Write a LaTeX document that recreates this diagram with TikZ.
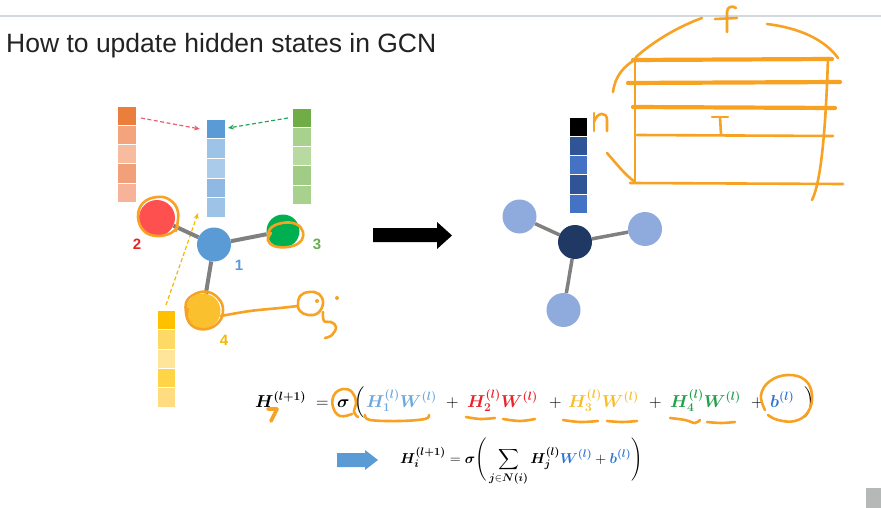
\documentclass[tikz,border=0pt]{standalone}
\usepackage{fontspec}
\usepackage{amsmath,bm}
\usetikzlibrary{arrows.meta}
\newfontfamily\sansfnt{Liberation Sans}
\definecolor{titlegray}{HTML}{222222}
\definecolor{topline}{HTML}{D3D9DE}
\definecolor{handor}{HTML}{F7A223}
\definecolor{edgegray}{HTML}{808080}
% vectors
\definecolor{vo0}{HTML}{EB7E3A}\definecolor{vo1}{HTML}{F4A47C}\definecolor{vo2}{HTML}{F7BBA0}\definecolor{vo3}{HTML}{F2A07A}\definecolor{vo4}{HTML}{F6B399}
\definecolor{vb0}{HTML}{5B9BD5}\definecolor{vb1}{HTML}{9DC3E6}\definecolor{vb2}{HTML}{AACBEA}\definecolor{vb3}{HTML}{8FB8E2}\definecolor{vb4}{HTML}{9DC3E6}
\definecolor{vg0}{HTML}{70AD47}\definecolor{vg1}{HTML}{A9D18E}\definecolor{vg2}{HTML}{B8D9A0}\definecolor{vg3}{HTML}{A0CC85}\definecolor{vg4}{HTML}{A9D18E}
\definecolor{vy0}{HTML}{FFC000}\definecolor{vy1}{HTML}{FFD966}\definecolor{vy2}{HTML}{FFE599}\definecolor{vy3}{HTML}{FFD447}\definecolor{vy4}{HTML}{FFDC80}
\definecolor{vd0}{HTML}{000000}\definecolor{vd1}{HTML}{2F5597}\definecolor{vd2}{HTML}{4472C4}\definecolor{vd3}{HTML}{2F5597}\definecolor{vd4}{HTML}{4472C4}
% nodes
\definecolor{nblue}{HTML}{5B9BD5}
\definecolor{nred}{HTML}{FF5050}
\definecolor{ngreen}{HTML}{00B050}
\definecolor{nyellow}{HTML}{FBC02D}
\definecolor{nnavy}{HTML}{203864}
\definecolor{nlight}{HTML}{8FAADC}
% labels / formula
\definecolor{lred}{HTML}{E02828}
\definecolor{lgreen}{HTML}{6AAB4F}
\definecolor{lyellow}{HTML}{F5B800}
\definecolor{fblue}{HTML}{6FA8DC}
\definecolor{fred}{HTML}{E8232A}
\definecolor{fyellow}{HTML}{F7BE2B}
\definecolor{fgreen}{HTML}{22A04B}
\definecolor{fb}{HTML}{2E75D6}
\definecolor{darrred}{HTML}{E8606A}
\definecolor{darrgreen}{HTML}{21A55A}
\definecolor{cornergray}{HTML}{B4B8B6}

\begin{document}
\begin{tikzpicture}[x=1pt,y=-1pt,
  hand/.style={draw=handor, line width=2.6pt, line cap=round, line join=round},
  handthick/.style={hand, line width=4.2pt},
  gnode/.style={circle, inner sep=0pt, minimum size=#1},
  gedge/.style={draw=edgegray, line width=4pt},
  nlabel/.style={inner sep=0pt, font=\sansfnt\bfseries\fontsize{15}{15}\selectfont},
  fm/.style={anchor=base west, inner sep=0pt, font=\fontsize{18.5}{22}\selectfont},
  dasharr/.style={line width=1.2pt, dash pattern=on 4pt off 2.5pt, -{Stealth[length=6pt,width=5pt]}}
]
\useasboundingbox (0,0) rectangle (881,508);

% top line and title
\draw[topline, line width=1.5pt] (0,16) -- (881,16);
\node[anchor=base west, inner sep=0pt, font=\sansfnt\fontsize{26.5}{30}\selectfont, text=titlegray] (title) at (6,53) {How to update hidden states in GCN};

% feature vectors
\foreach \i in {0,...,4} {
  \fill[vo\i, draw=white, line width=0.5pt] (117,{106+19.2*\i}) rectangle (136,{106+19.2*(\i+1)});
  \fill[vb\i, draw=white, line width=0.5pt] (206,{119+19.6*\i}) rectangle (225,{119+19.6*(\i+1)});
  \fill[vg\i, draw=white, line width=0.5pt] (292,{108+19.2*\i}) rectangle (311,{108+19.2*(\i+1)});
  \fill[vy\i, draw=white, line width=0.5pt] (157,{310+19.4*\i}) rectangle (175,{310+19.4*(\i+1)});
  \fill[vd\i, draw=white, line width=0.5pt] (569,{117+19.2*\i}) rectangle (587,{117+19.2*(\i+1)});
}

% dashed message arrows
\coordinate (redfrom) at (141,118);
\coordinate (redto) at (200,129);
\coordinate (greenfrom) at (288,118);
\coordinate (greento) at (228,128);
\coordinate (yelfrom) at (166,305);
\coordinate (yelto) at (198,213);
\draw[dasharr, darrred] (redfrom) -- (redto);
\draw[dasharr, darrgreen] (greenfrom) -- (greento);
\draw[dasharr, lyellow] (yelfrom) -- (yelto);

% left graph
\node[gnode=34pt, fill=nblue] (n1) at (214,244.5) {};
\node[gnode=36pt, fill=nred] (n2) at (157,218) {};
\node[gnode=33pt, fill=ngreen] (n3) at (283,231) {};
\node[gnode=35pt, fill=nyellow] (n4) at (203,311) {};
\draw[gedge] (n1) -- (n2);
\draw[gedge] (n1) -- (n3);
\draw[gedge] (n1) -- (n4);
\node[nlabel, text=nblue] (l1) at (239,265) {1};
\node[nlabel, text=lred] (l2) at (137,244) {2};
\node[nlabel, text=lgreen] (l3) at (317,244) {3};
\node[nlabel, text=lyellow] (l4) at (224,340) {4};

% big black arrow
\fill[black] (373,228) -- (437,228) -- (437,222) -- (452,235.5) -- (437,249) -- (437,242) -- (373,242) -- cycle;

% right graph
\node[gnode=34pt, fill=nnavy] (m1) at (575,242) {};
\node[gnode=34pt, fill=nlight] (m2) at (519.5,216.5) {};
\node[gnode=34pt, fill=nlight] (m3) at (645,229) {};
\node[gnode=34pt, fill=nlight] (m4) at (563.5,310) {};
\draw[gedge, line width=3.5pt] (m1) -- (m2);
\draw[gedge, line width=3.5pt] (m1) -- (m3);
\draw[gedge, line width=3.5pt] (m1) -- (m4);

% handwritten marks on the left graph
\draw[hand] plot[smooth, tension=0.7] coordinates {(176,231) (178,212) (170,200) (157,197) (143,203) (138,217) (144,231) (157,236) (171,233) (178,226)};
\draw[hand] plot[smooth, tension=0.7] coordinates {(268,241) (270,229) (282,223) (296,224) (303,232) (300,242) (288,247) (274,246) (268,240) (271,233)};
\draw[hand] plot[smooth, tension=0.7] coordinates {(187,318) (186,303) (195,294) (208,292) (219,299) (223,310) (219,322) (207,329) (194,327) (187,318) (188,309)};
\draw[hand] plot[smooth, tension=0.6] coordinates {(221,316) (250,311) (280,308) (298,306)};
\draw[hand] plot[smooth cycle, tension=0.7] coordinates {(298,305) (300,296) (309,292) (319,294) (323,303) (318,313) (308,315) (300,311)};
\fill[handor] (317,301) circle (2pt);
\fill[handor] (337,298) circle (2pt);
\draw[hand] plot[smooth, tension=0.7] coordinates {(323,312) (324,321) (331,322) (336,327) (332,335) (325,338)};

% handwritten sketch top right
\draw[handthick] (633,60) -- (832,59);
\draw[handthick] (628,83) -- (840,82);
\draw[handthick] (633,107) -- (835,108);
\draw[hand] (637,135) -- (833,136);
\draw[hand] (630,183) -- (843,184);
\draw[hand] (635,58) -- (635,183);
\draw[hand] (828,58) .. controls (826,120) and (822,180) .. (812,200);
\draw[hand] (613,92) .. controls (615,76) and (624,66) .. (636,59);
\draw[hand] (636,57) .. controls (655,40) and (680,26) .. (702,18);
\draw[hand] (767,24) .. controls (800,28) and (825,40) .. (838,58);
\draw[hand] (727,32) -- (727,12) .. controls (727,7) and (732,5) .. (736,8);
\draw[hand] (715,19) -- (737,18);
\draw[hand] (594,113) -- (594,131);
\draw[hand] (594,122) .. controls (597,112) and (607,111) .. (607,120) -- (607,131);
\draw[hand] (712,117) -- (728,117);
\draw[hand] (720,117) -- (721,134);
\draw[hand] (607,153) .. controls (615,162) and (625,175) .. (635,182);

% main formula
\node[fm] (e1) at (255,407) {$\bm{H}^{\bm{(l+1)}}$};
\node[fm] (e2) at (316,407) {$=$};
\node[fm] (e3) at (337,407) {$\bm{\sigma}$};
\node[fm] (e4) at (354,407) {$\Big($};
\node[fm, text=fblue] (e5) at (366,407) {$\bm{H}_{\bm{1}}^{\bm{(l)}}\bm{W}^{\bm{(l)}}$};
\node[fm] (e7) at (446,407) {$+$};
\node[fm, text=fred] (e8) at (467,407) {$\bm{H}_{\bm{2}}^{\bm{(l)}}\bm{W}^{\bm{(l)}}$};
\node[fm] (e10) at (549,407) {$+$};
\node[fm, text=fyellow] (e11) at (568,407) {$\bm{H}_{\bm{3}}^{\bm{(l)}}\bm{W}^{\bm{(l)}}$};
\node[fm] (e13) at (649,407) {$+$};
\node[fm, text=fgreen] (e14) at (670,407) {$\bm{H}_{\bm{4}}^{\bm{(l)}}\bm{W}^{\bm{(l)}}$};
\node[fm] (e16) at (751,407) {$+$};
\node[fm, text=fb] (e17) at (770,407) {$\bm{b}^{\bm{(l)}}$};
\node[fm] (e18) at (804,407) {$\Big)$};

% handwritten marks on the formula
\draw[hand, line width=3.6pt] (268,409) -- (277,409) -- (271,421);
\draw[hand] plot[smooth, tension=0.7] coordinates {(352,414) (340,416) (333,407) (334,395) (343,389) (352,392) (356,402) (354,412) (358,417)};
\draw[hand] plot[smooth, tension=0.7] coordinates {(765,410) (761,395) (770,381) (788,375) (805,380) (812,395) (808,412) (795,421) (778,420) (768,415)};
\draw[hand] plot[smooth, tension=0.6] coordinates {(365,415) (370,420) (400,421) (425,419) (429,415)};
\draw[hand] plot[smooth, tension=0.6] coordinates {(466,417) (480,419) (495,418)};
\draw[hand] plot[smooth, tension=0.6] coordinates {(503,419) (520,421) (535,419)};
\draw[hand] plot[smooth, tension=0.6] coordinates {(563,420) (580,422) (598,421)};
\draw[hand] plot[smooth, tension=0.6] coordinates {(607,421) (622,422) (637,421)};
\draw[hand] plot[smooth, tension=0.6] coordinates {(670,418) (685,420) (695,423) (700,420)};
\draw[hand] plot[smooth, tension=0.6] coordinates {(707,422) (721,423) (735,422)};

% second formula
\fill[nblue] (337,453) -- (365,453) -- (365,450) -- (378,460) -- (365,470) -- (365,467) -- (337,467) -- cycle;
\node[anchor=base west, inner sep=0pt, font=\fontsize{15}{18}\selectfont] (f2) at (400,463)
  {$\displaystyle \bm{H}_{\bm{i}}^{\bm{(l+1)}} = \bm{\sigma}\Bigg(\sum_{\bm{j}\in\bm{N(i)}} \bm{H}_{\bm{j}}^{\bm{(l)}}\textcolor{fb}{\bm{W}^{\bm{(l)}}} + \textcolor{fb}{\bm{b}^{\bm{(l)}}}\Bigg)$};

% corner square
\fill[cornergray] (866,488) rectangle (881,508);
\end{tikzpicture}
\end{document}
